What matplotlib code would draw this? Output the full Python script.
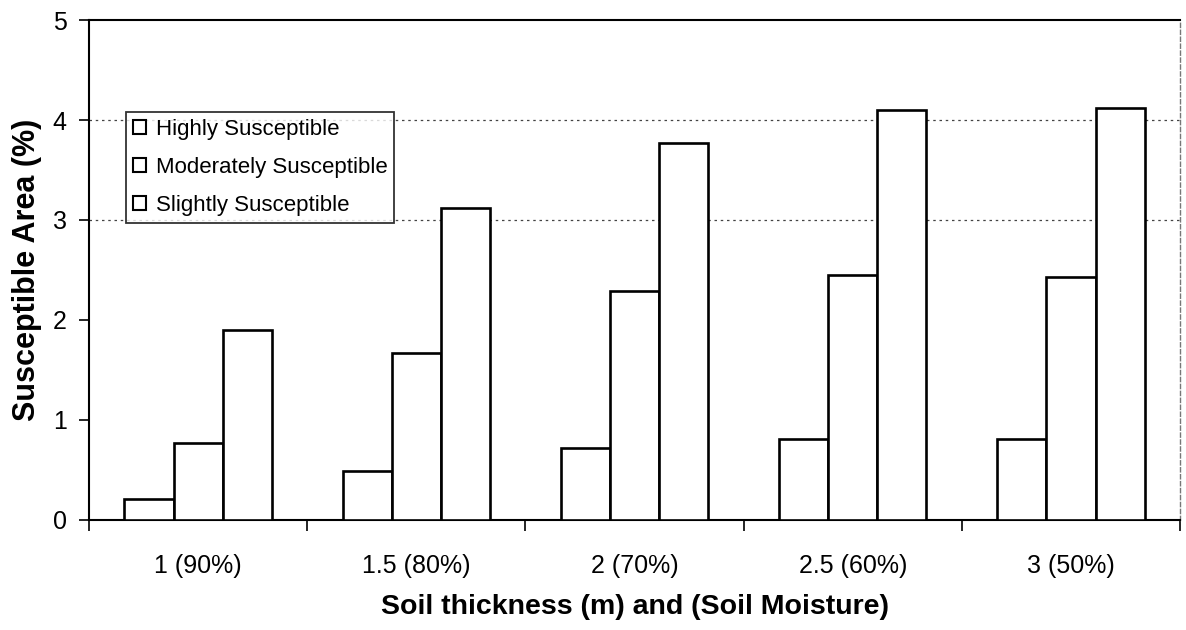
import numpy as np
import matplotlib.pyplot as plt
from matplotlib.patches import Patch

plt.rcParams['font.family'] = ['Liberation Sans', 'DejaVu Sans']

# soil thickness (m) with soil moisture in brackets
categories = ['1 (90%)', '1.5 (80%)', '2 (70%)', '2.5 (60%)', '3 (50%)']
series_names = ['Highly Susceptible', 'Moderately Susceptible', 'Slightly Susceptible']
highly = [0.21, 0.49, 0.72, 0.81, 0.81]
moderately = [0.77, 1.67, 2.29, 2.45, 2.43]
slightly = [1.90, 3.12, 3.77, 4.10, 4.12]
y_ticks = [0, 1, 2, 3, 4, 5]

fig = plt.figure(figsize=(11.86, 6.30), dpi=100)
ax = fig.add_axes([0.075, 0.175, 0.920, 0.793])

x = np.arange(len(categories))
w = 0.225
for k, vals in enumerate([highly, moderately, slightly]):
    ax.bar(x + (k - 1) * w, vals, width=w, facecolor='white',
           edgecolor='black', linewidth=1.9, zorder=3)

ax.set_xlim(-0.5, len(categories) - 0.5)
ax.set_ylim(0, 5)
ax.set_yticks(y_ticks)
ax.set_xticks(x)
ax.set_xticklabels(categories, fontsize=18)
ax.tick_params(axis='x', length=0, pad=24.5)
# tick marks sit between the category groups
ax.set_xticks(np.arange(len(categories) + 1) - 0.5, minor=True)
ax.tick_params(axis='x', which='minor', length=8, width=1.2, direction='out')
ax.tick_params(axis='y', labelsize=18, length=7, width=1.2, pad=9)

# dotted gridlines in the upper part
for gy in [3, 4]:
    ax.axhline(gy, color='#444444', linestyle=(0, (2, 3)), linewidth=0.9, zorder=1)

for s in ['left', 'bottom', 'top']:
    ax.spines[s].set_linewidth(1.5)
    ax.spines[s].set_color('black')
ax.spines['right'].set_color('#777777')
ax.spines['right'].set_linestyle((0, (3, 2)))
ax.spines['right'].set_linewidth(1.0)

ax.set_ylabel('Susceptible Area (%)', fontsize=22, fontweight='bold', labelpad=8)
ax.set_xlabel('Soil thickness (m) and (Soil Moisture)', fontsize=20.5,
              fontweight='bold', labelpad=12)

handles = [Patch(facecolor='white', edgecolor='black', linewidth=1.5, label=n)
           for n in series_names]
leg = ax.legend(handles=handles, loc='upper left', bbox_to_anchor=(0.034, 0.816),
                fontsize=16, frameon=True, fancybox=False, handlelength=0.6,
                handleheight=0.6, handletextpad=0.45, labelspacing=0.77,
                borderpad=0.3, borderaxespad=0)
leg.get_frame().set_edgecolor('black')
leg.get_frame().set_linewidth(1.3)
leg.set_zorder(5)

fig.savefig('out.png', dpi=100)
